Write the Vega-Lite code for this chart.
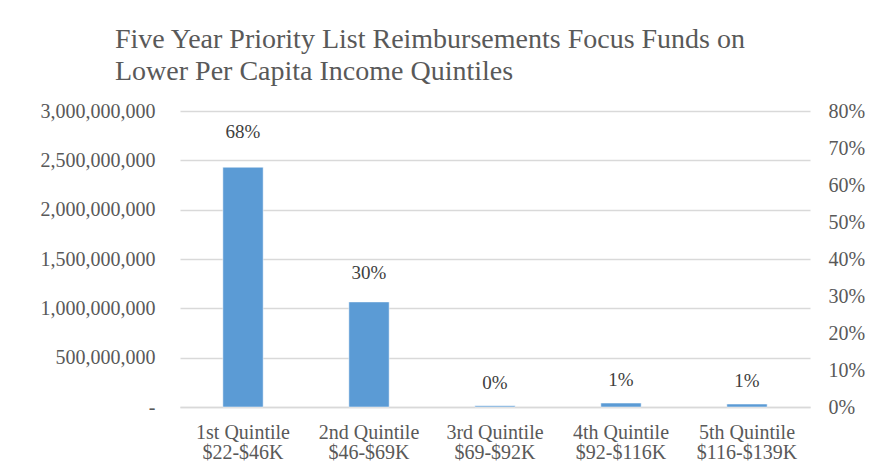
{
  "$schema": "https://vega.github.io/schema/vega-lite/v6.json",
  "width": 630,
  "height": 296,
  "autosize": {"type": "none"},
  "padding": {"left": 180, "top": 111, "right": 62, "bottom": 65},
  "background": "white",
  "title": {
    "text": ["Five Year Priority List Reimbursements Focus Funds on", "Lower Per Capita Income Quintiles"],
    "anchor": "start",
    "frame": "group",
    "dx": -65,
    "offset": 15,
    "font": "Liberation Serif",
    "fontSize": 28,
    "fontWeight": "normal",
    "color": "#595959",
    "lineHeight": 32
  },
  "config": {
    "view": {"stroke": null},
    "axis": {"labelFont": "Liberation Serif", "labelFontSize": 20, "labelColor": "#595959"}
  },
  "data": {
    "values": [
      {"quintile": "1st Quintile|$22-$46K", "amount": 2430000000, "pct": 0.68},
      {"quintile": "2nd Quintile|$46-$69K", "amount": 1065000000, "pct": 0.30},
      {"quintile": "3rd Quintile|$69-$92K", "amount": 12000000, "pct": 0.003},
      {"quintile": "4th Quintile|$92-$116K", "amount": 40000000, "pct": 0.011},
      {"quintile": "5th Quintile|$116-$139K", "amount": 30000000, "pct": 0.008}
    ]
  },
  "encoding": {
    "x": {
      "field": "quintile",
      "type": "nominal",
      "sort": null,
      "scale": {"paddingInner": 0.68, "paddingOuter": 0.34},
      "axis": {
        "title": null,
        "labelAngle": 0,
        "labelExpr": "split(datum.label, '|')",
        "labelLineHeight": 20,
        "labelPadding": 15,
        "ticks": false,
        "domainColor": "#d9d9d9",
        "domainWidth": 1.5
      }
    }
  },
  "layer": [
    {
      "mark": {"type": "bar", "color": "#5B9BD5", "stroke": "#ffffff", "strokeWidth": 0.5},
      "encoding": {
        "y": {
          "field": "amount",
          "type": "quantitative",
          "scale": {"domain": [0, 3000000000]},
          "axis": {
            "title": null,
            "orient": "left",
            "values": [0, 500000000, 1000000000, 1500000000, 2000000000, 2500000000, 3000000000],
            "labelExpr": "datum.value == 0 ? '-' : format(datum.value, ',')",
            "labelPadding": 25,
            "ticks": false,
            "domain": false,
            "grid": true,
            "gridColor": "#d9d9d9",
            "gridWidth": 1.5
          }
        }
      }
    },
    {
      "mark": {"type": "text", "font": "Liberation Serif", "fontSize": 19, "color": "#404040", "dy": -23},
      "encoding": {
        "y": {
          "field": "pct",
          "type": "quantitative",
          "scale": {"domain": [0, 0.8]},
          "axis": {
            "title": null,
            "orient": "right",
            "values": [0, 0.1, 0.2, 0.3, 0.4, 0.5, 0.6, 0.7, 0.8],
            "format": ".0%",
            "labelPadding": 18,
            "ticks": false,
            "domain": false,
            "grid": false
          }
        },
        "text": {"field": "pct", "type": "quantitative", "format": ".0%"}
      }
    }
  ],
  "resolve": {"scale": {"y": "independent"}}
}
